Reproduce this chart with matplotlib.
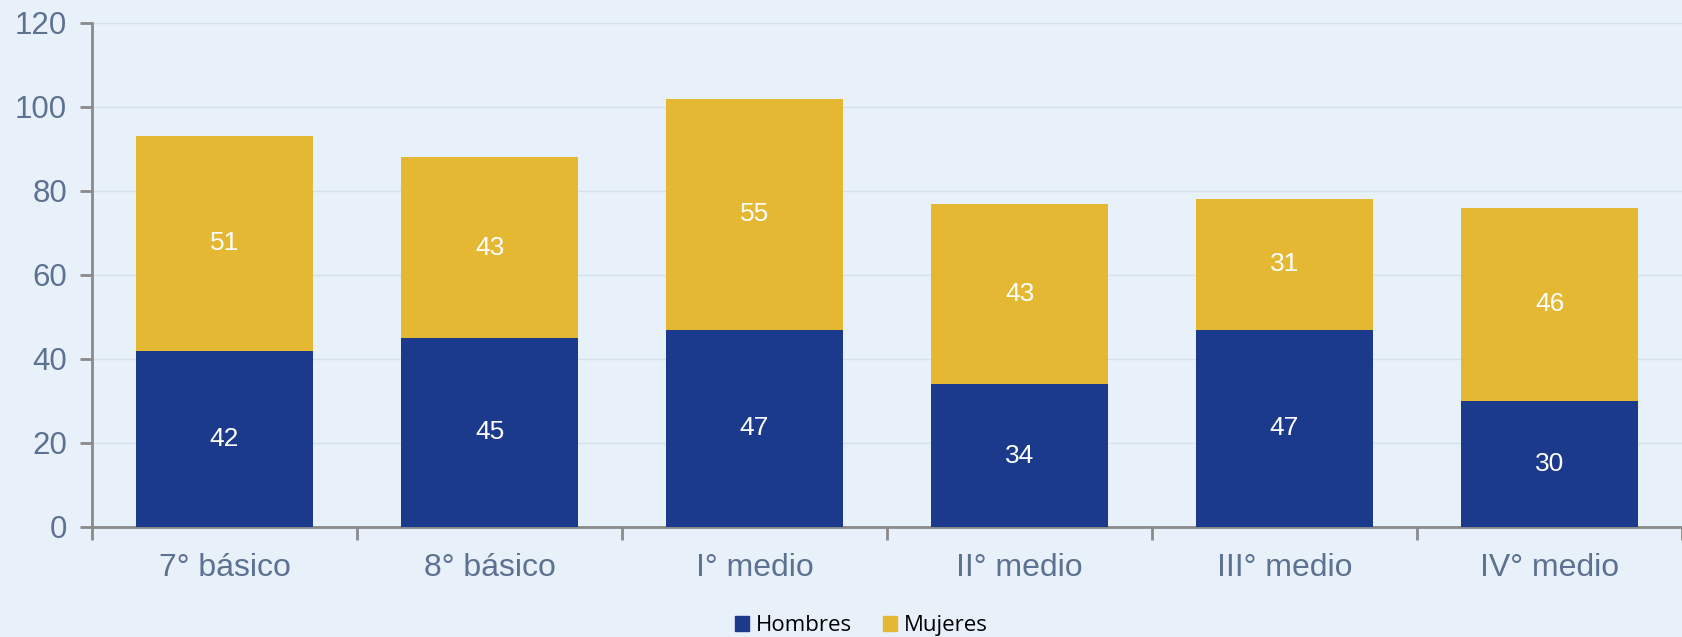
import numpy as np
import matplotlib.pyplot as plt
from matplotlib.patches import Patch

categories = ['7° básico', '8° básico', 'I° medio', 'II° medio', 'III° medio', 'IV° medio']
hombres = [42, 45, 47, 34, 47, 30]
mujeres = [51, 43, 55, 43, 31, 46]

bg = '#e8f0fa'
blue = '#1b3a8c'
yellow = '#e5b833'
tick_col = '#5d7190'
axis_col = '#8a8a8a'

plt.rcParams['font.family'] = ['Liberation Sans', 'DejaVu Sans']

fig = plt.figure(figsize=(16.82, 6.37), dpi=100, facecolor=bg)
ax = fig.add_axes([0.0547, 0.1727, 0.9453, 0.7912], facecolor=bg)

x = np.arange(len(categories))
w = 0.67
b1 = ax.bar(x, hombres, w, color=blue, zorder=3)
b2 = ax.bar(x, mujeres, w, bottom=hombres, color=yellow, zorder=3)

for vals, base in [(hombres, [0] * 6), (mujeres, hombres)]:
    for xi, v, b in zip(x, vals, base):
        ax.text(xi, b + v / 2, str(v), ha='center', va='center',
                color='white', fontsize=19, zorder=4)

ax.set_ylim(0, 120)
ax.set_xlim(-0.5, 5.47)
ax.set_yticks(range(0, 121, 20))
ax.yaxis.grid(True, color='#d3e1ee', linewidth=1, zorder=0)

ax.set_xticks(x)
ax.set_xticklabels(categories)
ax.set_xticks(np.arange(-0.5, 6, 1), minor=True)
ax.tick_params(axis='x', which='major', length=0, pad=19, labelsize=23, labelcolor=tick_col)
ax.tick_params(axis='x', which='minor', length=9, width=2, color=axis_col)
ax.tick_params(axis='y', length=9, width=2, color=axis_col, labelsize=22.5, labelcolor=tick_col, pad=9)

for s in ['top', 'right']:
    ax.spines[s].set_visible(False)
for s in ['left', 'bottom']:
    ax.spines[s].set_color(axis_col)
    ax.spines[s].set_linewidth(2)

handles = [Patch(color=blue, label='Hombres'), Patch(color=yellow, label='Mujeres')]
fig.legend(handles=handles, loc='lower center', bbox_to_anchor=(0.512, -0.03), ncol=2,
           frameon=False, handlelength=0.65, handleheight=0.65,
           handletextpad=0.3, columnspacing=1.4, prop={'family': 'Open Sans', 'size': 16})

fig.savefig('out.png', dpi=100, facecolor=bg)
